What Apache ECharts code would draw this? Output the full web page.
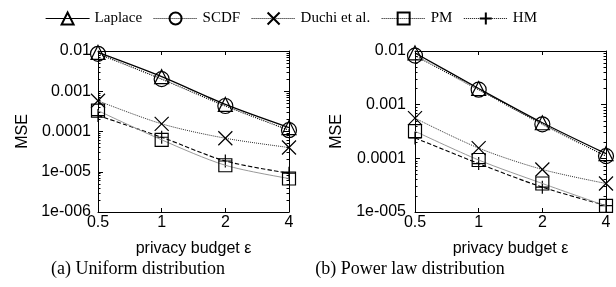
<!DOCTYPE html>
<html>
<head>
<meta charset="utf-8">
<script src="https://cdn.jsdelivr.net/npm/echarts@6/dist/echarts.min.js"></script>
<style>html,body{margin:0;padding:0;background:#fff}#c{width:616px;height:287px}</style>
</head>
<body>
<div id="c"></div>
<script>
// ---- data ----
const epsilons = ['0.5', '1', '2', '4'];
const seriesNames = ['Laplace', 'SCDF', 'Duchi et al.', 'PM', 'HM'];
// (a) Uniform distribution
const uniLaplace = [0.0092, 0.0023, 0.00047, 0.000125];
const uniSCDF    = [0.0085, 0.0020, 0.00043, 0.000108];
const uniDuchi   = [0.00058, 0.000155, 0.000068, 0.000040];
const uniPM      = [0.00033, 0.000062, 0.0000145, 0.0000068];
const uniHM      = [0.00025, 0.000072, 0.0000185, 0.0000092];
// (b) Power law distribution
const powLaplace = [0.0092, 0.0020, 0.00046, 0.000122];
const powSCDF    = [0.0082, 0.0019, 0.00043, 0.000110];
const powDuchi   = [0.00056, 0.000155, 0.000062, 0.000034];
const powPM      = [0.00032, 0.000093, 0.000034, 0.0000130];
const powHM      = [0.00024, 0.000080, 0.000029, 0.0000132];
// tick labels by decade exponent
const yTickLabels = {'-2': '0.01', '-3': '0.001', '-4': '0.0001', '-5': '1e-005', '-6': '1e-006'};
const xAxisName = 'privacy budget ε';
const yAxisName = 'MSE';
const captions = ['(a) Uniform distribution', '(b) Power law distribution'];

// ---- styles ----
const SANS = 'Liberation Sans';
const SERIF = 'Liberation Serif';
const styles = {
  'Laplace':      {symbol: 'triangle', size: 14, line: {color: '#000', width: 1.3, type: 'solid'}},
  'SCDF':         {symbol: 'circle', size: 15, line: {color: '#000', width: 1.1, type: 'dotted'}},
  'Duchi et al.': {symbol: 'path://M0,0L10,10M10,0L0,10', size: 14, line: {color: '#333', width: 1, type: 'dotted'}},
  'PM':           {symbol: 'rect', size: 13, line: {color: '#999', width: 1, type: 'solid'}},
  'HM':           {symbol: 'path://M5,0L5,10M0,5L10,5', size: 13, line: {color: '#000', width: 1.1, type: 'dashed'}}
};

const grids = [
  {left: 98, top: 51, width: 191, height: 161},
  {left: 415, top: 51, width: 191, height: 161}
];
const yRanges = [[1e-6, 1e-2], [1e-5, 1e-2]];
const dataSets = [
  [uniLaplace, uniSCDF, uniDuchi, uniPM, uniHM],
  [powLaplace, powSCDF, powDuchi, powPM, powHM]
];

const xAxes = [], yAxes = [], series = [];
grids.forEach((g, gi) => {
  xAxes.push({
    type: 'category', gridIndex: gi, data: epsilons, boundaryGap: false,
    axisLine: {lineStyle: {color: '#000', width: 1}},
    axisTick: {inside: true, length: 4, lineStyle: {color: '#000'}},
    axisLabel: {color: '#000', fontFamily: SANS, fontSize: 16, margin: 3},
    name: xAxisName, nameLocation: 'middle', nameGap: 29,
    nameTextStyle: {color: '#000', fontFamily: SANS, fontSize: 16}
  });
  xAxes.push({
    type: 'category', gridIndex: gi, data: epsilons, boundaryGap: false, position: 'top',
    axisLine: {lineStyle: {color: '#000', width: 1}},
    axisTick: {inside: true, length: 4, lineStyle: {color: '#000'}},
    axisLabel: {show: false}
  });
  yAxes.push({
    type: 'log', logBase: 10, gridIndex: gi, min: yRanges[gi][0], max: yRanges[gi][1],
    axisLine: {show: true, lineStyle: {color: '#000', width: 1}},
    axisTick: {show: true, inside: true, length: 5, lineStyle: {color: '#000'}},
    minorTick: {show: true, splitNumber: 9, length: 2.5, lineStyle: {color: '#000'}},
    splitLine: {show: false},
    axisLabel: {color: '#000', fontFamily: SANS, fontSize: 16, margin: gi === 0 ? 7 : 9,
      formatter: v => yTickLabels[String(Math.round(Math.log10(v)))] || ''},
    name: yAxisName, nameLocation: 'middle', nameGap: gi === 0 ? 67 : 70,
    nameTextStyle: {color: '#000', fontFamily: SANS, fontSize: 16}
  });
  yAxes.push({
    type: 'log', logBase: 10, gridIndex: gi, min: yRanges[gi][0], max: yRanges[gi][1], position: 'right',
    axisLine: {show: true, lineStyle: {color: '#000', width: 1}},
    axisTick: {show: true, inside: true, length: 5, lineStyle: {color: '#000'}},
    minorTick: {show: true, splitNumber: 9, length: 2.5, lineStyle: {color: '#000'}},
    splitLine: {show: false},
    axisLabel: {show: false}
  });
  seriesNames.forEach((name, si) => {
    const st = styles[name];
    series.push({
      name: name, type: 'line', xAxisIndex: gi * 2, yAxisIndex: gi * 2,
      data: dataSets[gi][si], smooth: 0.3,
      symbol: st.symbol, symbolSize: st.size, showSymbol: true,
      itemStyle: {color: 'transparent', borderColor: '#000', borderWidth: 1.2},
      lineStyle: st.line,
      emphasis: {disabled: true},
      animation: false,
      z: 10 - si
    });
  });
});

const chart = echarts.init(document.getElementById('c'), null, {renderer: 'canvas'});
chart.setOption({
  backgroundColor: '#fff',
  animation: false,
  grid: grids,
  xAxis: xAxes,
  yAxis: yAxes,
  legend: {
    left: 40, top: 6, itemWidth: 44, itemHeight: 15, itemGap: 11,
    textStyle: {color: '#000', fontFamily: SERIF, fontSize: 15},
    lineStyle: {type: 'dotted', color: '#000', width: 1},
    data: seriesNames.map(n => n === 'Laplace'
      ? {name: n, lineStyle: {type: 'solid', color: '#000', width: 1.2}}
      : {name: n, lineStyle: {type: 'dotted', color: '#000', width: 1}})
  },
  graphic: captions.map((t, i) => ({
    type: 'text', x: i === 0 ? 138 : 410, y: 269,
    style: {text: t, fill: '#000', font: '18px "Liberation Serif"', align: 'center', verticalAlign: 'middle'}
  })),
  series: series
});
</script>
</body>
</html>
